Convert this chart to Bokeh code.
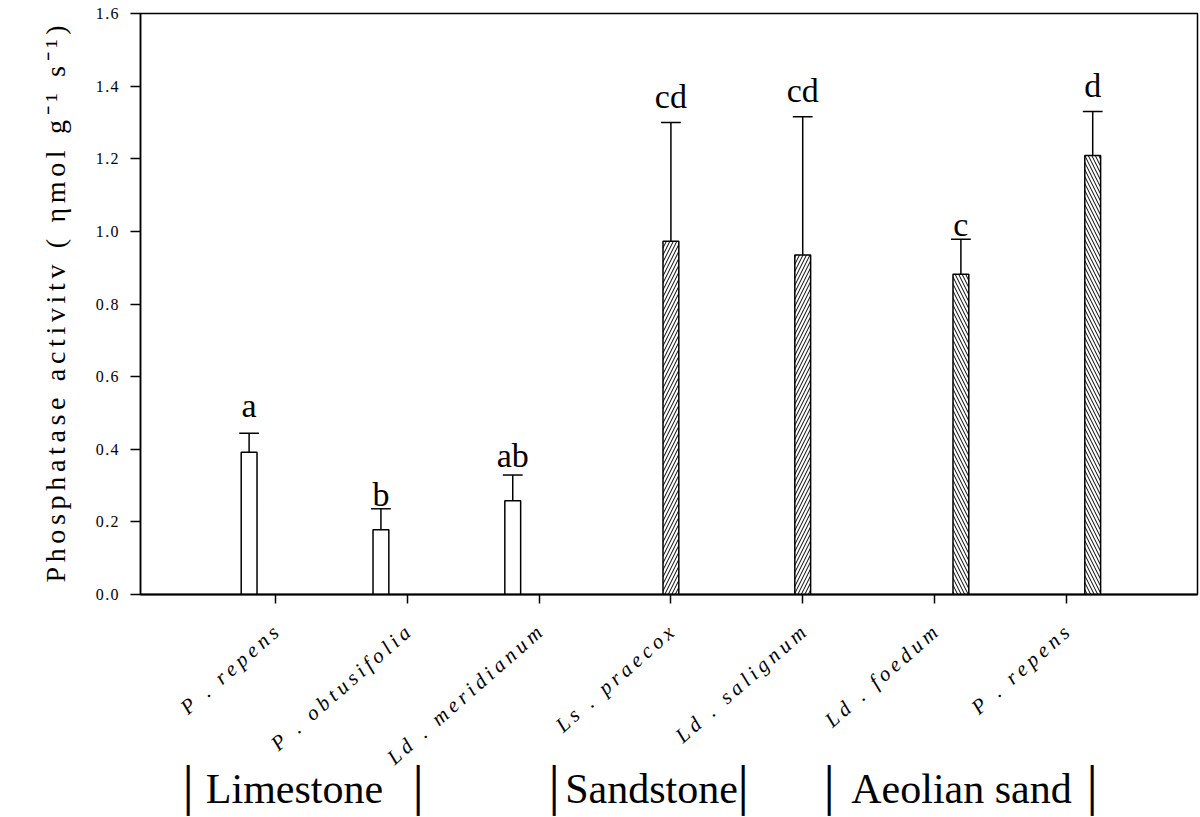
import math
from bokeh.plotting import figure
from bokeh.models import ColumnDataSource, Range1d, FixedTicker, CustomJSTickFormatter, LinearAxis
from bokeh.embed import file_html
from bokeh.resources import INLINE
from bokeh.core.properties import value

# ---------------- data ----------------
tick_labels = ["P . repens", "P . obtusifolia", "Ld . meridianum", "Ls . praecox",
               "Ld . salignum", "Ld . foedum", "P . repens"]
substrate = ["Limestone", "Limestone", "Limestone", "Sandstone", "Sandstone",
             "Aeolian sand", "Aeolian sand"]
activity = [0.392, 0.178, 0.258, 0.973, 0.935, 0.882, 1.209]
err_top = [0.444, 0.236, 0.329, 1.300, 1.316, 0.978, 1.330]
letters = ["a", "b", "ab", "cd", "cd", "c", "d"]
letter_y = [0.485, 0.240, 0.347, 1.336, 1.352, 0.983, 1.366]
groups = ["Limestone", "Sandstone", "Aeolian sand"]
y_ticks = [0.0, 0.2, 0.4, 0.6, 0.8, 1.0, 1.2, 1.4, 1.6]
y_title = "Phosphatase activitv ( \u03b7mol g\u207b\u00b9 s\u207b\u00b9)"

# ---------------- layout ----------------
W, H = 1200, 817
FL, FR, FT, FB = 140, 1197, 13, 594
X_LO, X_HI = -0.024, 7.995
Y_LO, Y_HI = 0.0, 1.6

def dx(sx):
    return X_LO + (sx - FL) / (FR - FL) * (X_HI - X_LO)

SERIF = "Liberation Serif"

def spaced(s, sp="\u2009"):
    return sp.join(s)

offset = {"Limestone": -0.2, "Sandstone": 0.0, "Aeolian sand": 0.2}
hatch = {"Limestone": " ", "Sandstone": "/", "Aeolian sand": "\\"}

pos = list(range(1, len(activity) + 1))
bx = [i + offset[s] for i, s in zip(pos, substrate)]
src = ColumnDataSource(dict(
    x=bx, top=activity, err=err_top,
    hatch=[hatch[s] for s in substrate],
    cl=[b - 0.075 for b in bx], cr=[b + 0.075 for b in bx],
    letter=letters, ly=letter_y,
))

p = figure(width=W, height=H, x_range=Range1d(X_LO, X_HI), y_range=Range1d(Y_LO, Y_HI),
           output_backend="svg", toolbar_location=None,
           min_border_left=FL, min_border_right=W - FR,
           min_border_top=FT, min_border_bottom=H - FB)
p.xgrid.visible = False
p.ygrid.visible = False
p.outline_line_color = "black"
p.outline_line_width = 1.5
p.background_fill_color = "white"
p.border_fill_color = "white"

# bars
p.vbar(x="x", top="top", bottom=0, width=0.12, source=src,
       fill_color="white", line_color="black", line_width=1.5,
       hatch_pattern="hatch", hatch_color="black", hatch_scale=7, hatch_weight=1)
# error bars (upper only)
p.segment(x0="x", y0="top", x1="x", y1="err", source=src, line_color="black", line_width=1.5)
p.segment(x0="cl", y0="err", x1="cr", y1="err", source=src, line_color="black", line_width=1.5)
# significance letters
p.text(x="x", y="ly", text="letter", source=src, text_font=value(SERIF),
       text_font_size="34px", text_align="center", text_baseline="alphabetic",
       text_color="black", y_offset=-13)

# y axis
ya = p.yaxis[0]
ya.ticker = FixedTicker(ticks=y_ticks)
ya.formatter = CustomJSTickFormatter(code="return tick.toFixed(1).split('').join('\\u200a');")
ya.major_label_text_font = SERIF
ya.major_label_text_font_size = "16px"
ya.major_label_text_color = "black"
ya.major_tick_in = 0
ya.major_tick_out = 10
ya.minor_tick_line_color = None
ya.axis_line_width = 1.5
ya.major_tick_line_width = 1.5
ya.major_label_standoff = 12
ya.axis_label = spaced(y_title, "\u2006")
ya.axis_label_text_font = SERIF
ya.axis_label_text_font_style = "normal"
ya.axis_label_text_font_size = "28px"
ya.axis_label_text_color = "black"
ya.axis_label_standoff = 22

# x axis (species)
xa = p.xaxis[0]
xa.ticker = FixedTicker(ticks=pos)
xa.major_label_overrides = {i: spaced(t) for i, t in zip(pos, tick_labels)}
xa.major_label_orientation = 0.72
xa.major_label_text_font = SERIF
xa.major_label_text_font_style = "italic"
xa.major_label_text_font_size = "21px"
xa.major_label_text_color = "black"
xa.major_tick_in = 0
xa.major_tick_out = 9
xa.minor_tick_line_color = None
xa.axis_line_width = 2
xa.major_tick_line_width = 1.5
xa.major_label_standoff = 26

# second bottom axis carrying the substrate group labels and separators
group_text_x = [294, 651, 961]
group_bars_x = [188, 418, 554, 743, 829, 1092]
g_ticks = [dx(v) for v in group_text_x] + [dx(v) for v in group_bars_x]
g_labels = groups + ["\u2502"] * len(group_bars_x)
ga = LinearAxis(ticker=FixedTicker(ticks=g_ticks),
                major_label_overrides={t: l for t, l in zip(g_ticks, g_labels)})
ga.axis_line_color = None
ga.major_tick_line_color = None
ga.minor_tick_line_color = None
ga.major_label_text_font = SERIF
ga.major_label_text_font_size = "42px"
ga.major_label_text_color = "black"
ga.major_label_standoff = -22
p.add_layout(ga, "below")

open("out.html", "w").write(file_html(p, INLINE))
